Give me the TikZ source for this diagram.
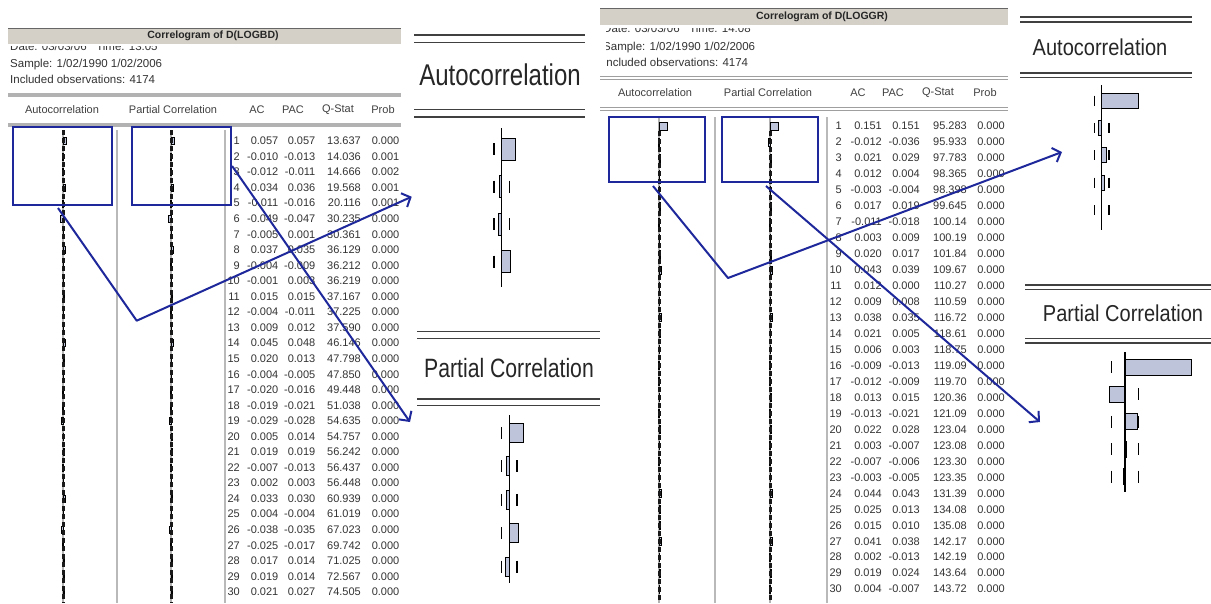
\documentclass[tikz,border=0pt]{standalone}
\usepackage{fontspec}
\setmainfont{Liberation Sans}
\newfontfamily\bigA[FakeStretch=0.8]{Liberation Sans}
\newfontfamily\bigB[FakeStretch=0.87]{Liberation Sans}
\usetikzlibrary{arrows.meta}
\definecolor{eblue}{RGB}{30,40,155}
\definecolor{barfill}{RGB}{190,196,218}
\definecolor{band}{RGB}{212,208,200}
\begin{document}
\begin{tikzpicture}[x=1pt,y=-1pt,
  tab/.style={font=\fontsize{11}{12}\selectfont, inner sep=0pt, anchor=east, text=black!80},
  hdr/.style={font=\fontsize{11}{13}\selectfont, inner sep=0pt, text=black!75},
  info/.style={font=\fontsize{11.5}{13}\selectfont, inner sep=0pt, anchor=base west, text=black!80},
  ttl/.style={font=\fontsize{10.5}{12}\selectfont\bfseries, inner sep=0pt, text=black!85},
  bluebox/.style={draw=eblue, line width=2.2pt, inner sep=0pt, fill=none},
  conn/.style={draw=eblue, line width=2pt, line join=round},
  arr/.style={conn, -{Straight Barb[length=7pt,width=15pt]}},
  vgray/.style={draw=gray!55, line width=1.5pt},
  hgray/.style={draw=gray!60, line width=3.5pt},
  dbl/.style={draw=gray!75, line width=1.1pt},
  bar/.style={fill=barfill, draw=black, line width=0.9pt},
  tinybar/.style={fill=barfill, draw=black, line width=0.4pt},
  mk/.style={draw=black, line width=1.4pt},
  dl/.style={draw=black!75, line width=1.6pt},
  axis/.style={draw=black, line width=1.3pt},
  dotaxis/.style={draw=black!90, line width=3pt, dash pattern=on 4.5pt off 3.5pt},
  grayaxis/.style={draw=gray!60, line width=2pt},
  bigA/.style={font=\bigA\fontsize{30}{32}\selectfont, inner sep=0pt, text=black!85},
  bigAp/.style={font=\bigA\fontsize{26.5}{28}\selectfont, inner sep=0pt, text=black!85},
  bigB/.style={font=\bigB\fontsize{23}{25}\selectfont, inner sep=0pt, text=black!85}
]
\useasboundingbox (0,0) rectangle (1211,603);
\fill[white] (0,0) rectangle (1211,603);

% ================= LEFT TABLE =================
\begin{scope}
  \clip (0,46) rectangle (410,603);
  \node[info] (lDate) at (10,50.5) {Date: 03/03/06 \ \ Time: 13:05};
\end{scope}
\fill[band] (8,28) rectangle (401,44);
\draw[gray!80!black, line width=1pt] (8,28) -- (401,28);
\node[ttl] (lTitle) at (213,36) {Correlogram of D(LOGBD)};
\node[info] (lSample) at (10,67) {Sample: 1/02/1990 1/02/2006};
\node[info] (lObs) at (10,83) {Included observations: 4174};
\draw[hgray] (8,95) -- (401,95);
\node[hdr] (lhA) at (62,110) {Autocorrelation};
\node[hdr] (lhP) at (173,110) {Partial Correlation};
\node[hdr] (lhAC) at (257,110) {AC};
\node[hdr] (lhPAC) at (293,110) {PAC};
\node[hdr] (lhQ) at (338,110) {Q-Stat};
\node[hdr] (lhPr) at (383,110) {Prob};
\draw[hgray] (8,125) -- (401,125);
\draw[vgray] (117,130) -- (117,603);
\draw[vgray] (225,130) -- (225,603);
\draw[grayaxis] (63,130) -- (63,603);
\draw[grayaxis] (171,130) -- (171,603);

\foreach \rn/\ra/\rp/\rq/\rb in {
 1/0.057/0.057/13.637/0.000, 2/-0.010/-0.013/14.036/0.001, 3/-0.012/-0.011/14.666/0.002,
 4/0.034/0.036/19.568/0.001, 5/-0.011/-0.016/20.116/0.001, 6/-0.049/-0.047/30.235/0.000,
 7/-0.005/0.001/30.361/0.000, 8/0.037/0.035/36.129/0.000, 9/-0.004/-0.009/36.212/0.000,
 10/-0.001/0.003/36.219/0.000, 11/0.015/0.015/37.167/0.000, 12/-0.004/-0.011/37.225/0.000,
 13/0.009/0.012/37.590/0.000, 14/0.045/0.048/46.146/0.000, 15/0.020/0.013/47.798/0.000,
 16/-0.004/-0.005/47.850/0.000, 17/-0.020/-0.016/49.448/0.000, 18/-0.019/-0.021/51.038/0.000,
 19/-0.029/-0.028/54.635/0.000, 20/0.005/0.014/54.757/0.000, 21/0.019/0.019/56.242/0.000,
 22/-0.007/-0.013/56.437/0.000, 23/0.002/0.003/56.448/0.000, 24/0.033/0.030/60.939/0.000,
 25/0.004/-0.004/61.019/0.000, 26/-0.038/-0.035/67.023/0.000, 27/-0.025/-0.017/69.742/0.000,
 28/0.017/0.014/71.025/0.000, 29/0.019/0.014/72.567/0.000, 30/0.021/0.027/74.505/0.000} {
  \pgfmathsetmacro\yy{141+(\rn-1)*15.55}
  \filldraw[tinybar] (63,\yy-3.5) rectangle ({63+(\ra)*52},\yy+3.5);
  \filldraw[tinybar] (171,\yy-3.5) rectangle ({171+(\rp)*52},\yy+3.5);
  \node[tab] (lL\rn) at (240,\yy) {\rn};
  \node[tab] (lAC\rn) at (278.5,\yy) {\ra};
  \node[tab] (lPAC\rn) at (315.5,\yy) {\rp};
  \node[tab] (lQ\rn) at (361,\yy) {\rq};
  \node[tab] (lP\rn) at (399.5,\yy) {\rb};
}
\draw[dotaxis] (63,130) -- (63,603);
\draw[dotaxis] (171,130) -- (171,603);

\node[bluebox, minimum width=99pt, minimum height=78pt] (LAbox) at (62.5,166) {};
\node[bluebox, minimum width=99pt, minimum height=78pt] (LPbox) at (181.5,166) {};

% ================= LEFT ZOOM PANELS =================
\draw[dl] (414,35) -- (585,35);
\draw[dl] (414,42.5) -- (585,42.5);
\node[bigA] (LzAt) at (500,75) {Autocorrelation};
\draw[dl] (414,109.5) -- (585,109.5);
\draw[dl] (414,117) -- (585,117);
\foreach \v [count=\i] in {0.057,-0.010,-0.012,0.034} {
  \pgfmathsetmacro\yy{149+(\i-1)*37.5}
  \draw[mk] (494.1,\yy-6) -- (494.1,\yy+6);
  \draw[mk] (509.3,\yy-6) -- (509.3,\yy+6);
  \filldraw[bar] (501.7,\yy-11) rectangle ({501.7+(\v)*245},\yy+11);
}
\draw[axis] (501.7,128) -- (501.7,287);
\coordinate (LzAin) at (411.7,196.7);

\draw[dl] (417,331.5) -- (600,331.5);
\draw[dl] (417,338.5) -- (600,338.5);
\node[bigAp] (LzPt) at (509,368) {Partial Correlation};
\draw[dl] (417,399) -- (600,399);
\draw[dl] (417,405.5) -- (600,405.5);
\foreach \v [count=\i] in {0.057,-0.013,-0.011,0.036,-0.016} {
  \pgfmathsetmacro\yy{433+(\i-1)*33.4}
  \draw[mk] (501.6,\yy-6) -- (501.6,\yy+6);
  \draw[mk] (517,\yy-6) -- (517,\yy+6);
  \filldraw[bar] (509.3,\yy-9.5) rectangle ({509.3+(\v)*250},\yy+9.5);
}
\draw[axis] (509.3,415) -- (509.3,583);
\coordinate (LzPin) at (410,422);

% left connectors
\coordinate (LAs) at (58,208);
\coordinate (LAc) at (136.7,320.7);
\draw[arr] (LAs) -- (LAc) -- (LzAin);
\draw[arr] (LPbox.east) -- (LzPin);

% ================= RIGHT TABLE =================
\begin{scope}
  \clip (606,0) rectangle (1012,603);
  \begin{scope}
    \clip (600,28) rectangle (1012,603);
    \node[info] (rDate) at (603,32) {Date: 03/03/06 \ \ Time: 14:08};
  \end{scope}
  \node[info] (rSample) at (603,50) {Sample: 1/02/1990 1/02/2006};
  \node[info] (rObs) at (603,66) {Included observations: 4174};
\end{scope}
\fill[band] (600,8) rectangle (1008,25);
\draw[gray!80!black, line width=1pt] (600,8) -- (1008,8);
\node[ttl] (rTitle) at (822,17) {Correlogram of D(LOGGR)};
\draw[dbl] (600,76.5) -- (1008,76.5);
\draw[dbl] (600,79.5) -- (1008,79.5);
\node[hdr] (rhA) at (655,93) {Autocorrelation};
\node[hdr] (rhP) at (768,93) {Partial Correlation};
\node[hdr] (rhAC) at (858,93) {AC};
\node[hdr] (rhPAC) at (893,93) {PAC};
\node[hdr] (rhQ) at (938,93) {Q-Stat};
\node[hdr] (rhPr) at (985,93) {Prob};
\draw[dbl] (600,107.5) -- (1008,107.5);
\draw[dbl] (600,110.5) -- (1008,110.5);
\draw[vgray] (715,117) -- (715,603);
\draw[vgray] (827,117) -- (827,603);
\draw[grayaxis] (659,117) -- (659,603);
\draw[grayaxis] (770,117) -- (770,603);

\foreach \rn/\ra/\rp/\rq/\rb in {
 1/0.151/0.151/95.283/0.000, 2/-0.012/-0.036/95.933/0.000, 3/0.021/0.029/97.783/0.000,
 4/0.012/0.004/98.365/0.000, 5/-0.003/-0.004/98.398/0.000, 6/0.017/0.019/99.645/0.000,
 7/-0.011/-0.018/100.14/0.000, 8/0.003/0.009/100.19/0.000, 9/0.020/0.017/101.84/0.000,
 10/0.043/0.039/109.67/0.000, 11/0.012/0.000/110.27/0.000, 12/0.009/0.008/110.59/0.000,
 13/0.038/0.035/116.72/0.000, 14/0.021/0.005/118.61/0.000, 15/0.006/0.003/118.75/0.000,
 16/-0.009/-0.013/119.09/0.000, 17/-0.012/-0.009/119.70/0.000, 18/0.013/0.015/120.36/0.000,
 19/-0.013/-0.021/121.09/0.000, 20/0.022/0.028/123.04/0.000, 21/0.003/-0.007/123.08/0.000,
 22/-0.007/-0.006/123.30/0.000, 23/-0.003/-0.005/123.35/0.000, 24/0.044/0.043/131.39/0.000,
 25/0.025/0.013/134.08/0.000, 26/0.015/0.010/135.08/0.000, 27/0.041/0.038/142.17/0.000,
 28/0.002/-0.013/142.19/0.000, 29/0.019/0.024/143.64/0.000, 30/0.004/-0.007/143.72/0.000} {
  \pgfmathsetmacro\yy{126+(\rn-1)*15.97}
  \filldraw[tinybar] (659,\yy-4) rectangle ({659+(\ra)*53},\yy+4);
  \filldraw[tinybar] (770,\yy-4) rectangle ({770+(\rp)*53},\yy+4);
  \node[tab] (rL\rn) at (842,\yy) {\rn};
  \node[tab] (rAC\rn) at (882,\yy) {\ra};
  \node[tab] (rPAC\rn) at (920,\yy) {\rp};
  \node[tab] (rQ\rn) at (967,\yy) {\rq};
  \node[tab] (rP\rn) at (1005,\yy) {\rb};
}
\draw[dotaxis] (659,131) -- (659,603);
\draw[dotaxis] (770,131) -- (770,603);

\node[bluebox, minimum width=96pt, minimum height=65pt] (RAbox) at (657,149.5) {};
\node[bluebox, minimum width=96pt, minimum height=65pt] (RPbox) at (770,149.5) {};

% ================= RIGHT ZOOM PANELS =================
\draw[dl] (1020,17) -- (1192,17);
\draw[dl] (1020,22) -- (1192,22);
\node[bigB] (RzAt) at (1100,47) {Autocorrelation};
\draw[dl] (1020,73) -- (1192,73);
\draw[dl] (1020,77.5) -- (1192,77.5);
\foreach \v [count=\i] in {0.151,-0.012,0.021,0.012,-0.003} {
  \pgfmathsetmacro\yy{100.5+(\i-1)*27.4}
  \draw[mk] (1094.3,\yy-5) -- (1094.3,\yy+5);
  \draw[mk] (1109.1,\yy-5) -- (1109.1,\yy+5);
  \filldraw[bar] (1101.7,\yy-7.5) rectangle ({1101.7+(\v)*240},\yy+7.5);
}
\draw[axis] (1101.7,85) -- (1101.7,230);
\coordinate (RzAin) at (1062,152);

\draw[dl] (1025,285) -- (1211,285);
\draw[dl] (1025,289.5) -- (1211,289.5);
\node[bigB] (RzPt) at (1123,313) {Partial Correlation};
\draw[dl] (1025,338.5) -- (1211,338.5);
\draw[dl] (1025,343) -- (1211,343);
\foreach \v [count=\i] in {0.151,-0.036,0.029,0.004,-0.004} {
  \pgfmathsetmacro\yy{367+(\i-1)*27.4}
  \draw[mk] (1111.4,\yy-6) -- (1111.4,\yy+6);
  \draw[mk] (1138.6,\yy-6) -- (1138.6,\yy+6);
  \filldraw[bar] (1125,\yy-8) rectangle ({1125+(\v)*440},\yy+8);
}
\draw[axis] (1125,352) -- (1125,492);
\coordinate (RzPin) at (1040,422);

% right connectors
\coordinate (RAs) at (653,186);
\coordinate (RAc) at (728,278);
\draw[arr] (RAs) -- (RAc) -- (RzAin);
\coordinate (RPs) at (766,186);
\draw[arr] (RPs) -- (RzPin);
\end{tikzpicture}
\end{document}
